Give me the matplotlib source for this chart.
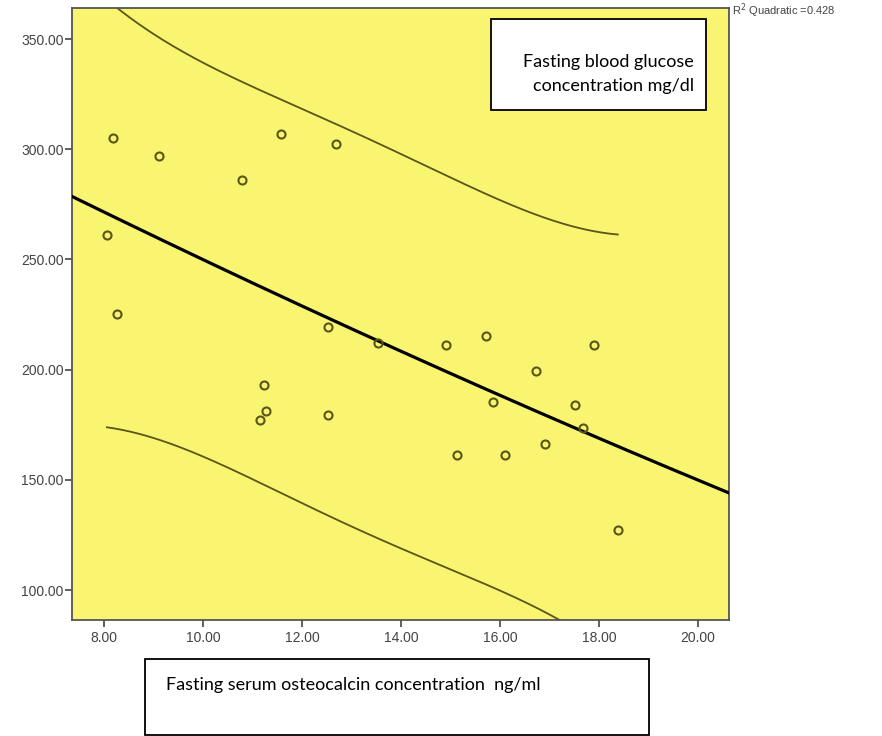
import numpy as np
import matplotlib
matplotlib.use("Agg")
import matplotlib.pyplot as plt
from matplotlib.patches import Rectangle

# Data
osteocalcin = [8.19, 9.12, 11.58, 12.68, 10.79, 8.06, 8.27,
               12.53, 13.53, 11.23, 11.27, 11.15, 12.53,
               14.90, 15.71, 17.90, 16.72, 15.86, 17.52, 17.67, 16.91, 15.14, 16.11,
               18.38]
glucose = [305.2, 297.1, 306.9, 302.2, 286.0, 261.1, 225.2,
           219.2, 211.9, 193.2, 181.4, 177.1, 179.3,
           211.2, 215.2, 211.2, 199.2, 185.2, 184.1, 173.6, 166.2, 161.3, 161.3,
           127.2]
x_ticks = [8, 10, 12, 14, 16, 18, 20]
y_ticks = [100, 150, 200, 250, 300, 350]
r2_text = "R$^2$ Quadratic =0.428"
t_crit = 2.080  # t(0.975, df=21)

x = np.array(osteocalcin)
y = np.array(glucose)

fig = plt.figure(figsize=(8.82, 7.36), dpi=100)
ax = fig.add_axes([72/882, 1-620/736, (729-72)/882, (620-8)/736])
ax.set_facecolor("#FAF570")
ax.set_xlim(7.354, 20.626)
ax.set_ylim(86.4, 364.1)

# quadratic fit
X = np.column_stack([np.ones_like(x), x, x**2])
beta, *_ = np.linalg.lstsq(X, y, rcond=None)
resid = y - X @ beta
n, p = X.shape
s = np.sqrt(resid @ resid / (n - p))
XtX_inv = np.linalg.inv(X.T @ X)

xf = np.linspace(7.354, 20.626, 300)
Xf = np.column_stack([np.ones_like(xf), xf, xf**2])
ax.plot(xf, Xf @ beta, color="black", lw=2.3, zorder=3)

xi = np.linspace(x.min(), x.max(), 200)
Xi = np.column_stack([np.ones_like(xi), xi, xi**2])
yi = Xi @ beta
h = np.einsum("ij,jk,ik->i", Xi, XtX_inv, Xi)
half = t_crit * s * np.sqrt(1 + h)
ax.plot(xi, yi + half, color="#5A5518", lw=1.3, zorder=2)
ax.plot(xi, yi - half, color="#5A5518", lw=1.3, zorder=2)

ax.plot(x, y, linestyle="none", marker="o", markersize=5.8, markerfacecolor="none",
        markeredgecolor="#5A5518", markeredgewidth=1.5, zorder=4)

ax.set_xticks(x_ticks)
ax.set_xticklabels([f"{v:.2f}" for v in x_ticks])
ax.set_yticks(y_ticks)
ax.set_yticklabels([f"{v:.2f}" for v in y_ticks])
ax.tick_params(axis="both", direction="out", length=5, width=1.2, color="#444444",
               labelsize=10, labelcolor="#444444")
ax.tick_params(axis="y", pad=1)
ax.tick_params(axis="x", pad=3)
for lab in ax.get_xticklabels() + ax.get_yticklabels():
    lab.set_family("Liberation Sans")
for sp in ax.spines.values():
    sp.set_color("#555555")
    sp.set_linewidth(1.3)

# R2 annotation
fig.text(732/882, 1-11/736, r2_text, fontsize=8, color="#444444",
         family="Liberation Sans", va="center", ha="left")

# Upper text box
fig.patches.append(Rectangle((491/882, 1-110/736), (706-491)/882, (110-19)/736,
                             transform=fig.transFigure, facecolor="white",
                             edgecolor="black", lw=1.3, zorder=5))
fig.text(694/882, 1-67/736, "Fasting blood glucose", fontsize=13, family="Lato",
         ha="right", va="baseline", zorder=6)
fig.text(694/882, 1-91/736, "concentration mg/dl", fontsize=13, family="Lato",
         ha="right", va="baseline", zorder=6)

# Lower text box
fig.patches.append(Rectangle((145/882, 1-735/736), (649-145)/882, (735-659)/736,
                             transform=fig.transFigure, facecolor="white",
                             edgecolor="black", lw=1.3, zorder=5))
fig.text(166/882, 1-690/736, "Fasting serum osteocalcin concentration  ng/ml",
         fontsize=13, family="Lato", ha="left", va="baseline", zorder=6)

fig.savefig("out.png", dpi=100)
